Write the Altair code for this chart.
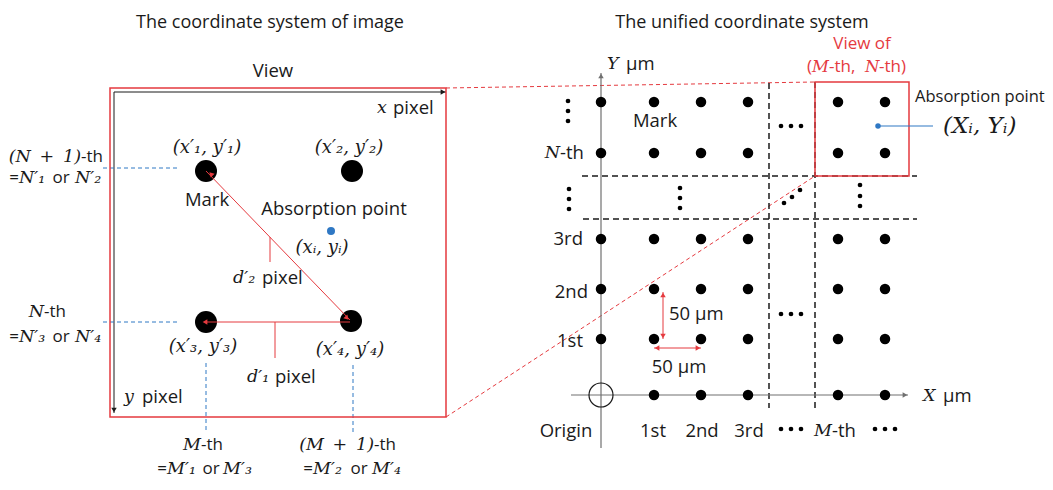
import altair as alt
import pandas as pd

# ---------------- canvas mapping (image pixel coordinates) ----------------
W, H = 1037, 470
XDOM = [8, 8 + W]
YDOM = [8, 8 + H]

RED = "#e53a3f"
BLUE = "#2f78c4"
INK = "#1a1a1a"
GRAY = "#707070"
SANS = "Open Sans"
SERIF = "DejaVu Serif"
EN = "\u2002"
FS = 18.5   # sans label size
FM = 17.5   # math (serif italic) size
FB = 17     # bottom / side labels
FR = 17     # red "View of" caption

# ---------------- left panel: image coordinate system ----------------
view_rect = [(110, 88, 446, 417)]
left_axes = [(114, 92, 446, 92), (114, 92, 114, 413)]
mark_x = [206, 352, 206, 351]
mark_y = [171, 171, 322, 321]
absorb_left = [(331, 231)]
red_lines_left = [(350, 320, 206, 171), (350, 322, 206, 322),
                  (270, 237, 270, 262), (275, 322, 275, 358)]
blue_dashes = [(103, 168, 180, 168), (103, 322, 180, 322),
               (206, 363, 206, 430), (353, 365, 353, 432)]

# ---------------- right panel: unified coordinate system ----------------
grid_cols = [601, 654, 701, 748, 838, 885]
grid_rows = [102, 153, 239, 289, 339, 395]
origin = [(601, 395)]
right_axes = [(601, 448, 601, 73), (571, 395, 908, 395)]
view_rect_right = [(815, 82, 909, 176)]
zoom_links = [(446, 88, 815, 82), (446, 417, 815, 176)]
black_dashes = [(769, 83, 769, 408), (815, 82, 815, 408),
                (582, 176, 917, 176), (583, 219, 917, 219)]
pitch_arrows = [(663, 292, 663, 339), (654, 348, 701, 348)]
absorb_right = [(878, 126)]
absorb_leader = [(878, 126, 933, 126)]
ellipsis_x = [568, 568, 568, 569, 569, 569, 680, 680, 680, 860, 860, 860,
              784, 792, 800, 781, 791, 801, 781, 791, 801, 781, 791, 801, 875, 885, 895]
ellipsis_y = [101, 111, 121, 189, 199, 209, 188, 198, 208, 185, 196, 206,
              203, 197, 190, 126, 126, 126, 314, 314, 314, 429, 429, 429, 429, 429, 429]

# arrowheads: x, y, angle, color
arrow_heads = [
    (443, 92, 90, INK), (114, 410, 180, INK),
    (211, 174, 316, RED), (205, 322, 270, RED), (347, 318, 136, RED),
    (601, 76, 0, GRAY), (905, 395, 90, GRAY),
    (663, 295, 0, RED), (663, 336, 180, RED), (657, 348, 270, RED), (698, 348, 90, RED),
]

# ---------------- texts: (text, x, y, size, colour) ----------------
sans_center = [
    ("The coordinate system of image", 270, 22.5, 18, INK),
    ("View", 273, 71, FS, INK),
    ("Mark", 207, 200, FS, INK),
    ("Absorption point", 334, 209, FS, INK),
    ("The unified coordinate system", 742, 22.5, 18, INK),
    ("View of", 862, 44, FR, RED),
    ("Mark", 655, 121, FS, INK),
    ("Origin", 566, 431, FS, INK),
    ("1st", 653, 431, FS, INK), ("2nd", 702, 431, FS, INK), ("3rd", 749, 431, FS, INK),
    ("50 µm", 679, 367, FS, INK),
    ("or", 61, 178, FB, INK), ("or", 61, 337, FB, INK),
    ("or", 211, 469, FB, INK), ("or", 359, 469, FB, INK),
]
sans_left = [
    ("pixel", 393, 108, FS, INK), ("pixel", 142, 397, FS, INK),
    ("pixel", 262, 278, FS, INK), ("pixel", 275, 377, FS, INK),
    ("-th", 81, 157, FB, INK), ("-th", 44, 312, FB, INK),
    ("-th", 201, 445, FB, INK), ("-th", 374, 445, FB, INK),
    ("µm", 626, 64, FS, INK), ("-th", 560, 153, FS, INK),
    ("Absorption point", 915, 97, 16.5, INK), ("50 µm", 669, 314, FS, INK),
    ("-th", 832, 431, FS, INK), ("µm", 943, 396, FS, INK),
    ("-th,", 829, 67, FR, RED), ("-th)", 879, 67, FR, RED),
]
sans_right = [
    ("3rd", 583, 239, FS, INK), ("2nd", 588, 292, FS, INK), ("1st", 583, 341, FS, INK),
    ("=", 19, 178, FB, INK), ("=", 19, 337, FB, INK),
    ("=", 167, 469, FB, INK), ("=", 313, 469, FB, INK),
    ("(", 812, 67, FR, RED),
]
serif_left = [
    ("x", 377, 108, FM, INK), ("y", 124, 397, FM, INK),
    ("d′₂", 233, 278, FM, INK), ("d′₁", 247, 377, FM, INK),
    ("N′₁", 19, 178, FM, INK), ("N′₂", 75, 178, FM, INK),
    ("N′₃", 19, 337, FM, INK), ("N′₄", 75, 337, FM, INK),
    ("M′₁", 167, 469, FM, INK), ("M′₃", 223, 469, FM, INK),
    ("M′₂", 313, 469, FM, INK), ("M′₄", 372, 469, FM, INK),
    ("Y", 607, 64, FM, INK), ("(Xᵢ, Yᵢ)", 943, 126, 23, INK), ("X", 923, 396, FM, INK),
    ("M", 812, 67, 16.5, RED), ("N", 865, 67, 16.5, RED),
]
serif_right = [
    ("N", 44, 312, FM, INK), ("M", 201, 445, FM, INK),
    ("N", 560, 153, FM, INK), ("M", 832, 431, FM, INK),
    (f"(N{EN}+{EN}1)", 81, 157, FM, INK), (f"(M{EN}+{EN}1)", 374, 445, FM, INK),
]
serif_center = [
    ("(x′₁, y′₁)", 207, 148, 18, INK), ("(x′₂, y′₂)", 349, 148, 18, INK),
    ("(xᵢ, yᵢ)", 322, 248, 18, INK), ("(x′₃, y′₃)", 203, 347, 18, INK),
    ("(x′₄, y′₄)", 350, 350, 18, INK),
]

# ---------------- helpers ----------------
XS = alt.Scale(domain=XDOM, nice=False, zero=False)
YS = alt.Scale(domain=YDOM, nice=False, zero=False, reverse=True)


def X(f="x"):
    return alt.X(f"{f}:Q", scale=XS, axis=None)


def Y(f="y"):
    return alt.Y(f"{f}:Q", scale=YS, axis=None)


def segs(rows, color, width=1.0, dash=None):
    df = pd.DataFrame(rows, columns=["x", "y", "x2", "y2"])
    kw = dict(color=color, strokeWidth=width)
    if dash:
        kw["strokeDash"] = dash
    return alt.Chart(df).mark_rule(**kw).encode(
        x=X(), y=Y(), x2=alt.X2("x2:Q"), y2=alt.Y2("y2:Q"))


def rects(rows, color, width=1.5):
    df = pd.DataFrame(rows, columns=["x", "y", "x2", "y2"])
    return alt.Chart(df).mark_rect(fill=None, fillOpacity=0, stroke=color, strokeWidth=width).encode(
        x=X(), y=Y(), x2=alt.X2("x2:Q"), y2=alt.Y2("y2:Q"))


def dots(xs, ys, color, size, filled=True, stroke_w=1.0):
    df = pd.DataFrame({"x": xs, "y": ys})
    return alt.Chart(df).mark_point(shape="circle", filled=filled, opacity=1,
                                    color=color, size=size, strokeWidth=stroke_w).encode(x=X(), y=Y())


def texts(rows, align, font, style="normal"):
    df = pd.DataFrame(rows, columns=["t", "x", "y", "s", "c"])
    return alt.Chart(df).mark_text(align=align, baseline="middle", font=font, fontStyle=style).encode(
        x=X(), y=Y(), text="t:N",
        size=alt.Size("s:Q", scale=None, legend=None),
        color=alt.Color("c:N", scale=None, legend=None))


# grid of marks (the origin spot holds an open circle instead)
gx, gy = [], []
for yy in grid_rows:
    for xx in grid_cols:
        if not (xx == grid_cols[0] and yy == grid_rows[-1]):
            gx.append(xx)
            gy.append(yy)

heads_df = pd.DataFrame(arrow_heads, columns=["x", "y", "a", "c"])
heads = alt.Chart(heads_df).mark_point(shape="triangle-up", filled=True, opacity=1, size=30).encode(
    x=X(), y=Y(), angle=alt.Angle("a:Q", scale=None),
    color=alt.Color("c:N", scale=None, legend=None))

layers = [
    segs(zoom_links, RED, 1.0, [4, 3]),
    segs(black_dashes, INK, 1.5, [6, 4]),
    segs(right_axes, GRAY, 1.2),
    segs(left_axes, INK, 1.0),
    segs(blue_dashes, BLUE, 1.0, [4, 3]),
    rects(view_rect, RED, 1.5),
    rects(view_rect_right, RED, 1.5),
    dots([o[0] for o in origin], [o[1] for o in origin], INK, 576, filled=False, stroke_w=1.2),
    dots(gx, gy, "#000000", 110),
    dots(ellipsis_x, ellipsis_y, "#000000", 22),
    dots(mark_x, mark_y, "#000000", 484),
    segs(red_lines_left, RED, 1.0),
    segs(pitch_arrows, RED, 1.0),
    segs(absorb_leader, BLUE, 1.2),
    dots([p[0] for p in absorb_left], [p[1] for p in absorb_left], BLUE, 64),
    dots([p[0] for p in absorb_right], [p[1] for p in absorb_right], BLUE, 30),
    heads,
    texts(sans_center, "center", SANS),
    texts(sans_left, "left", SANS),
    texts(sans_right, "right", SANS),
    texts(serif_left, "left", SERIF, "italic"),
    texts(serif_right, "right", SERIF, "italic"),
    texts(serif_center, "center", SERIF, "italic"),
]

chart = alt.layer(*layers).properties(
    width=W, height=H, padding=0, autosize=alt.AutoSizeParams(type="none"),
    background="white",
).configure_view(stroke=None)

chart.save("out.html", embed_options={"renderer": "svg", "actions": False})
